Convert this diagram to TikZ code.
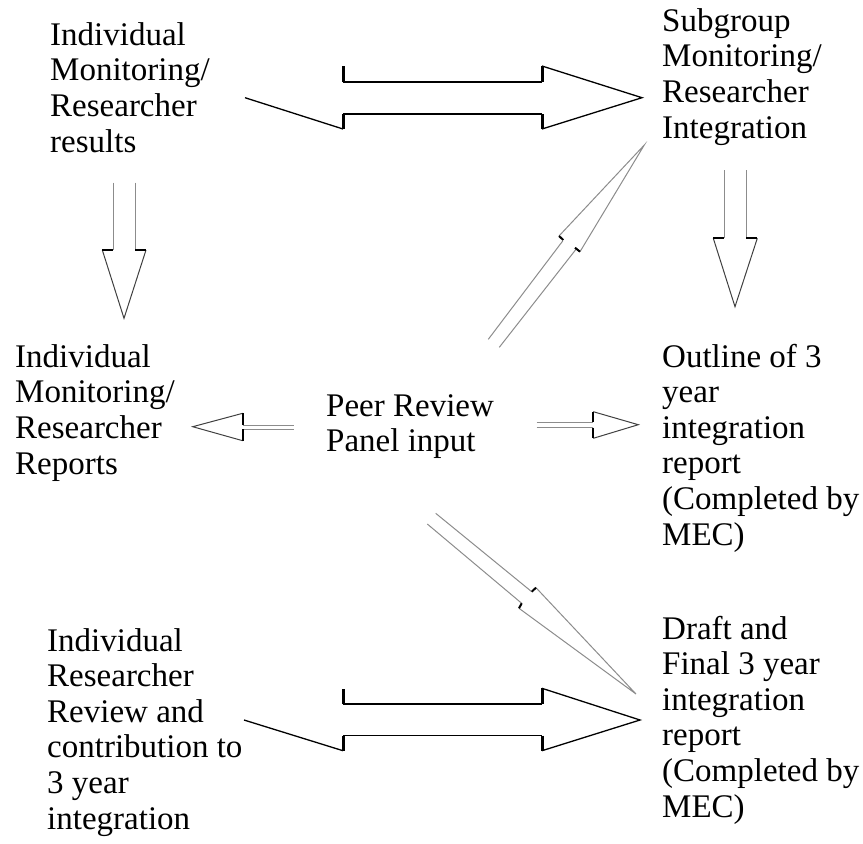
\documentclass[tikz,border=0pt]{standalone}
\usepackage{fontspec}
\setmainfont{Liberation Serif}
\begin{document}
\begin{tikzpicture}[x=1pt,y=-1pt,
  lbl/.style={anchor=base west,inner sep=0pt,align=left,font=\fontsize{33}{35.6}\selectfont},
  blk/.style={draw=black,line width=1.3pt},
  stub/.style={draw=black,line width=3pt},
  mstub/.style={draw=black,line width=2pt},
  hd/.style={draw=black!75,line width=1pt},
  sh/.style={draw=black!45,line width=1pt}]
\useasboundingbox (0,0) rectangle (863,844);
% texts (base anchor = baseline of last line)
\node[lbl] (t1) at (50,152) {Individual\\Monitoring/\\Researcher\\results};
\node[lbl] (t2) at (662,138) {Subgroup\\Monitoring/\\Researcher\\Integration};
\node[lbl] (t3) at (15,474) {Individual\\Monitoring/\\Researcher\\Reports};
\node[lbl] (t4) at (326,451.6) {Peer Review\\Panel input};
\node[lbl] (t5) at (662,545) {Outline of 3\\year\\integration\\report\\(Completed by\\MEC)};
\node[lbl] (t6) at (662,817) {Draft and\\Final 3 year\\integration\\report\\(Completed by\\MEC)};
\node[lbl] (t7) at (47,829) {Individual\\Researcher\\Review and\\contribution to\\3 year\\integration};
% top horizontal arrow
\draw[blk] (245,97.7) -- (343,129);
\draw[blk] (343,114) -- (542,114);
\draw[blk] (542,129) -- (642,97.7) -- (542,66);
\draw[blk] (542,82) -- (343,82);
\draw[stub] (343,114) -- (343,129);
\draw[stub] (542,114) -- (542,129);
\draw[stub] (542,66) -- (542,82);
\draw[stub] (343,82) -- (343,66);
% bottom horizontal arrow
\draw[blk] (244,720) -- (343,750.7);
\draw[blk] (343,735.7) -- (542,735.7);
\draw[blk] (542,750.7) -- (640,720) -- (542,688.3);
\draw[blk] (542,704) -- (343,704);
\draw[stub] (343,735.7) -- (343,750.7);
\draw[stub] (542,735.7) -- (542,750.7);
\draw[stub] (542,688.3) -- (542,704);
\draw[stub] (343,704) -- (343,689.3);
% left down arrow
\draw[sh] (113.3,182.7) -- (113.3,250);
\draw[sh] (135,182.7) -- (135,250);
\draw[hd] (102.3,250) -- (124,318.3) -- (146,250);
\draw[mstub] (102.3,250) -- (113.3,250);
\draw[mstub] (135,250) -- (146,250);
% right down arrow
\draw[sh] (724.3,170) -- (724.3,238.3);
\draw[sh] (746,170) -- (746,238.3);
\draw[hd] (713.3,238.3) -- (735,306.7) -- (757.3,238.3);
\draw[mstub] (713.3,238.3) -- (724.3,238.3);
\draw[mstub] (746,238.3) -- (757.3,238.3);
% diagonal up arrow
\draw[sh] (562.7,241) -- (488.3,339.3);
\draw[sh] (576,249.3) -- (499.3,347.3);
\draw[sh] (559,236) -- (644.3,145) -- (580,251.7);
\draw[mstub] (559,236) -- (563.3,240);
\draw[mstub] (575,247.7) -- (580,251.7);
% diagonal down arrow
\draw[sh] (435.7,513.3) -- (531.7,591.7);
\draw[sh] (427.3,524) -- (521.7,603.3);
\draw[sh] (536,587.7) -- (636,694) -- (519,608.3);
\draw[mstub] (531.7,591.7) -- (536,587.7);
\draw[mstub] (521.7,603.3) -- (519,608.3);
% left small arrow
\draw[sh] (242.7,425) -- (294,425);
\draw[sh] (242.7,429.3) -- (294,429.3);
\draw[hd] (242.7,413.3) -- (192.7,426.7) -- (242.7,440.7);
\draw[mstub] (242.7,413.3) -- (242.7,425);
\draw[mstub] (242.7,429.3) -- (242.7,440.7);
% right small arrow
\draw[sh] (536.7,422.3) -- (593.3,422.3);
\draw[sh] (536.7,427.7) -- (593.3,427.7);
\draw[hd] (593.3,411.7) -- (638.3,424.7) -- (593.3,438.3);
\draw[mstub] (593.3,411.7) -- (593.3,422.3);
\draw[mstub] (593.3,427.7) -- (593.3,438.3);
\end{tikzpicture}
\end{document}
